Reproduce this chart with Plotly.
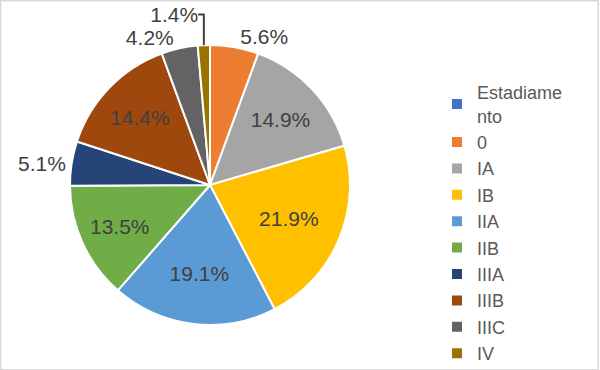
import plotly.graph_objects as go

labels = ["Estadiame<br>nto", "0", "IA", "IB", "IIA", "IIB", "IIIA", "IIIB", "IIIC", "IV"]
values = [0, 5.6, 14.9, 21.9, 19.1, 13.5, 5.1, 14.4, 4.2, 1.4]
colors = ["#4472C4", "#ED7D31", "#A5A5A5", "#FFC000", "#5B9BD5",
          "#70AD47", "#264478", "#9E480E", "#636363", "#997300"]
positions = ["none", "outside", "inside", "inside", "inside",
             "inside", "outside", "inside", "outside", "outside"]

texts = ["" if v == 0 else f"{v:.1f}%" for v in values]

W, H = 600, 370
cx, cy, r = 210, 185, 140
FONT = "Liberation Sans, Arial"

fig = go.Figure(go.Pie(
    labels=labels,
    values=values,
    text=texts,
    textinfo="text",
    textposition=positions,
    insidetextorientation="horizontal",
    sort=False,
    direction="clockwise",
    rotation=0,
    marker=dict(colors=colors, line=dict(color="white", width=2)),
    textfont=dict(family=FONT, size=21, color="#404040"),
    outsidetextfont=dict(family=FONT, size=21, color="#404040"),
    insidetextfont=dict(family=FONT, size=21, color="#404040"),
    domain=dict(x=[(cx - r) / W, (cx + r) / W], y=[1 - (cy + r) / H, 1 - (cy - r) / H]),
    hoverinfo="label+percent",
))

fig.update_layout(
    width=W, height=H,
    margin=dict(l=0, r=0, t=0, b=0, autoexpand=False),
    paper_bgcolor="white",
    plot_bgcolor="white",
    showlegend=True,
    uniformtext=dict(minsize=21, mode="show"),
    legend=dict(
        x=437 / W, y=1 - 74 / H, xanchor="left", yanchor="top",
        font=dict(family=FONT, size=18, color="#595959"),
        bgcolor="rgba(0,0,0,0)",
        traceorder="normal",
        maxheight=400,
    ),
    shapes=[dict(type="rect", xref="paper", yref="paper", x0=0.001, x1=0.997, y0=0.001, y1=0.998,
                 line=dict(color="#D9D9D9", width=1.5), fillcolor="rgba(0,0,0,0)")],
)

fig.write_html("out.html", config={"displayModeBar": False},
               post_script="document.body.style.margin='0px';document.body.style.overflow='hidden';")
